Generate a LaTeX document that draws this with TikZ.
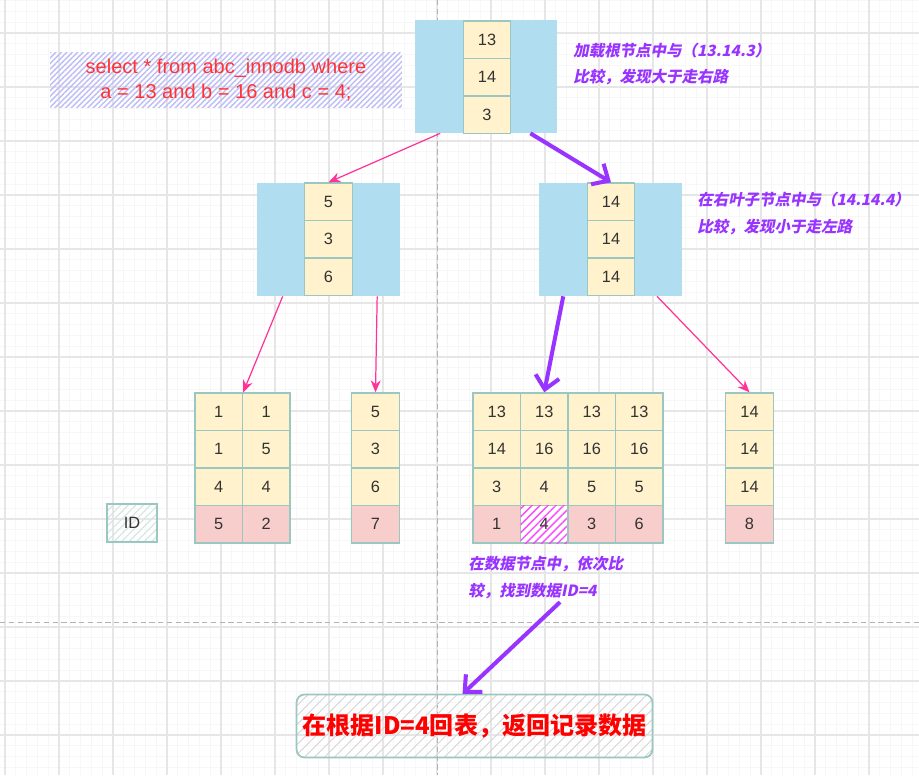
\documentclass[tikz,border=0pt]{standalone}
\usepackage{fontspec}
\setmainfont{Liberation Sans}
\newfontfamily\cjk{Noto Sans CJK SC}
\newfontfamily\cjknote[FakeSlant=0.2]{Noto Sans CJK SC}
\usetikzlibrary{arrows.meta,positioning,calc,patterns.meta}
\definecolor{keyblue}{HTML}{B1DDF0}
\definecolor{cellfill}{HTML}{FFF2CC}
\definecolor{idfill}{HTML}{F8CECC}
\definecolor{cellline}{HTML}{9AC7BF}
\definecolor{pinkline}{HTML}{FF3399}
\definecolor{purpleline}{HTML}{9933FF}
\definecolor{sqlred}{HTML}{FF3333}
\definecolor{sqlhatch}{HTML}{BDBDF5}
\definecolor{hitpink}{HTML}{FF44FF}
\definecolor{gridminor}{HTML}{F7F7F7}
\definecolor{gridmajor}{HTML}{E6E6E6}
\tikzset{key/.style={fill=keyblue,minimum width=2.85cm,minimum height=2.26cm,inner sep=0pt},cell/.style={draw=cellline,line width=0.8pt,fill=cellfill,minimum width=0.95cm,minimum height=0.75cm,inner sep=0pt,text=black!80,font=\fontsize{9.3}{10}\selectfont},rowid/.style={cell,fill=idfill},hit/.style={cell,fill=white,postaction={pattern color=hitpink,pattern={Lines[angle=45,distance=3.2pt,line width=0.8pt]}}},pinkarrow/.style={draw=pinkline,line width=0.7pt,-{Stealth[length=2.4mm,width=2mm]}},boldarrow/.style={draw=purpleline,line width=2.3pt,-{Straight Barb[length=2.6mm,width=4.8mm]}},note/.style={text=purpleline,align=left,anchor=west,inner sep=0pt,font=\cjknote\bfseries\fontsize{8.8}{15.3}\selectfont},guide/.style={draw=black!30,line width=0.5pt,dash pattern=on 3pt off 2pt}}

\begin{document}
\begin{tikzpicture}[x=0.02cm,y=-0.02cm]
\useasboundingbox (0,0) rectangle (919,775);
\fill[white] (0,0) rectangle (919,775);
% grid paper
\foreach \x in {5,15.8,...,919} \draw[gridminor,line width=0.4pt] (\x,0) -- (\x,775);
\foreach \y in {0.6,11.4,...,775} \draw[gridminor,line width=0.4pt] (0,\y) -- (919,\y);
\foreach \x in {5,59,...,919} \draw[gridmajor,line width=0.6pt] (\x,0) -- (\x,775);
\foreach \y in {33,87,...,775} \draw[gridmajor,line width=0.6pt] (0,\y) -- (919,\y);
\draw[guide] (437,0) -- (437,775);
\draw[guide] (0,622) -- (919,622);

% query
\node[minimum width=7.04cm,minimum height=1.1cm,pattern color=sqlhatch,pattern={Lines[angle=45,distance=2.2pt,line width=0.8pt]},text=sqlred,align=center,font=\fontsize{11.4}{14.2}\selectfont] (sql) at (226,80) {select * from abc\_innodb where\\a = 13 and b = 16 and c = 4;};

% root
\node[key] (rootkey) at (486,76.5) {};
\foreach \v [count=\i] in {13,14,3} \node[cell] (r\i) at (487,{2.25+37.5*\i}) {\v};
\node[note] (note1) at (573,64) {加载根节点中与（13.14.3）\\比较，发现大于走右路};

% second level
\node[key] (leftkey) at (328.5,239.5) {};
\foreach \v [count=\i] in {5,3,6} \node[cell] (ml\i) at (328.5,{164.25+37.5*\i}) {\v};
\node[key] (rightkey) at (610.5,239.5) {};
\foreach \v [count=\i] in {14,14,14} \node[cell] (mr\i) at (611,{164.25+37.5*\i}) {\v};
\node[note] (note2) at (697,213.5) {在右叶子节点中与（14.14.4）\\比较，发现小于走左路};

% leaves
\foreach \a/\b [count=\r] in {1/1,1/5,4/4} {
  \node[cell] (la\r) at (218.75,{374.25+37.5*\r}) {\a};
  \node[cell] (lb\r) at (266.25,{374.25+37.5*\r}) {\b};
}
\node[rowid] (la4) at (218.75,524.25) {5};
\node[rowid] (lb4) at (266.25,524.25) {2};
\foreach \v [count=\r] in {5,3,6} \node[cell] (lc\r) at (375.5,{374.25+37.5*\r}) {\v};
\node[rowid] (lc4) at (375.5,524.25) {7};
\foreach \row [count=\r] in {{13,13,13,13},{14,16,16,16},{3,4,5,5}}
  \foreach \v [count=\c] in \row \node[cell] (d\r\c) at ({449.25+47.5*\c},{374.25+37.5*\r}) {\v};
\node[rowid] (d41) at (496.75,524.25) {1};
\node[hit] (d42) at (544.25,524.25) {4};
\node[rowid] (d43) at (591.75,524.25) {3};
\node[rowid] (d44) at (639.25,524.25) {6};
\foreach \v [count=\r] in {14,14,14} \node[cell] (le\r) at (749.5,{374.25+37.5*\r}) {\v};
\node[rowid] (le4) at (749.5,524.25) {8};
\node[draw=cellline,line width=0.8pt,minimum width=1cm,minimum height=0.76cm,pattern color=cellline!45,pattern={Lines[angle=45,distance=3pt,line width=0.6pt]},text=black!80,font=\fontsize{9.3}{10}\selectfont] (idlabel) at (132,523) {ID};
\node[note] (note3) at (468,577.5) {在数据节点中，依次比\\较，找到数据ID=4};

% result
\node[draw=cellline,line width=1pt,rounded corners=1.6mm,minimum width=7.06cm,minimum height=1.26cm,pattern color=black!15,pattern={Lines[angle=45,distance=4pt,line width=0.6pt]},text=red,font=\cjk\bfseries\fontsize{13.7}{16}\selectfont] (result) at (474.5,726) {在根据ID=4回表，返回记录数据};

% paths
\draw[pinkarrow] ($(rootkey.south west)!0.18!(rootkey.south east)$) -- (ml1.north);
\draw[boldarrow] ($(rootkey.south west)!0.81!(rootkey.south east)$) -- (mr1.north);
\draw[pinkarrow] ($(leftkey.south west)!0.18!(leftkey.south east)$) -- (la1.north east);
\draw[pinkarrow] ($(leftkey.south west)!0.84!(leftkey.south east)$) -- (lc1.north);
\draw[boldarrow] ($(rightkey.south west)!0.17!(rightkey.south east)$) -- (d12.north);
\draw[pinkarrow] ($(rightkey.south west)!0.825!(rightkey.south east)$) -- (le1.north);
\draw[boldarrow] ($(note3.south west)+(92,3)$) -- ($(result.north)+(-12,0)$);
\end{tikzpicture}
\end{document}
